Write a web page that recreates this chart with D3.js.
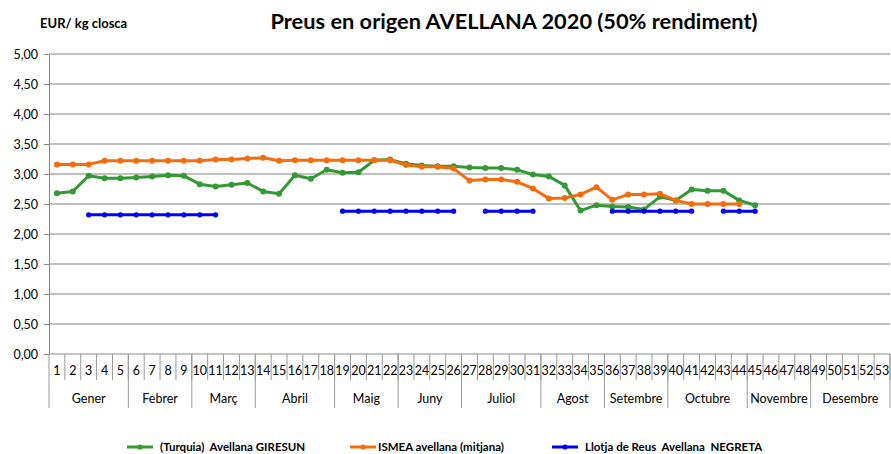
<!DOCTYPE html>
<html>
<head>
<meta charset="utf-8">
<script src="https://cdn.jsdelivr.net/npm/d3@7"></script>
<style>
  body { margin: 0; background: #fff; }
  text { font-family: Lato, "Open Sans", sans-serif; fill: #000; }
</style>
</head>
<body>
<script>
var w = 891;
var h = 454;

// categories
var weeks = [1,2,3,4,5,6,7,8,9,10,11,12,13,14,15,16,17,18,19,20,21,22,23,24,25,26,27,
  28,29,30,31,32,33,34,35,36,37,38,39,40,41,42,43,44,45,46,47,48,49,50,51,52,53];
var monthNames = ["Gener","Febrer","Març","Abril","Maig","Juny","Juliol","Agost",
  "Setembre","Octubre","Novembre","Desembre"];
var monthWeeks = [5,4,4,5,4,4,5,4,4,5,4,5];
var yTicks = [0,0.5,1,1.5,2,2.5,3,3.5,4,4.5,5];

// series (null = no data that week)
var giresun = [2.68,2.71,2.97,2.93,2.93,2.94,2.96,2.98,2.97,2.83,2.79,2.82,2.85,2.71,2.67,
  2.98,2.92,3.07,3.02,3.03,3.23,3.24,3.17,3.14,3.13,3.13,3.11,3.10,3.10,3.07,2.99,2.96,
  2.81,2.39,2.48,2.46,2.45,2.41,2.62,2.56,2.74,2.72,2.72,2.56,2.48,
  null,null,null,null,null,null,null,null];
var ismea = [3.16,3.16,3.16,3.22,3.22,3.22,3.22,3.22,3.22,3.22,3.24,3.24,3.26,3.27,3.22,
  3.23,3.23,3.23,3.23,3.23,3.23,3.23,3.15,3.12,3.12,3.09,2.89,2.91,2.91,2.87,2.76,2.59,
  2.60,2.66,2.78,2.57,2.66,2.66,2.67,2.56,2.50,2.50,2.50,2.50,
  null,null,null,null,null,null,null,null,null];
var negreta = [null,null,2.32,2.32,2.32,2.32,2.32,2.32,2.32,2.32,2.32,
  null,null,null,null,null,null,null,
  2.38,2.38,2.38,2.38,2.38,2.38,2.38,2.38,null,2.38,2.38,2.38,2.38,
  null,null,null,null,2.38,2.38,2.38,2.38,2.38,2.38,null,2.38,2.38,2.38,
  null,null,null,null,null,null,null,null];

var seriesNames = ["(Turquia)  Avellana GIRESUN", "ISMEA avellana (mitjana)",
  "Llotja de Reus  Avellana  NEGRETA"];
var seriesColors = ["#339933", "#f56c0c", "#0000ff"];

var svg = d3.select("body").append("svg")
  .attr("width", w)
  .attr("height", h);

var x = d3.scaleBand()
  .domain(weeks)
  .range([49, 890]);
var y = d3.scaleLinear()
  .domain([0, 5])
  .range([354, 54]);

var fmt = d3.formatLocale({decimal: ",", thousands: ".", grouping: [3], currency: ["", "€"]}).format(".2f");

// gridlines
svg.append("g")
  .selectAll("line")
  .data(yTicks.filter(function (d) { return d > 0; }))
  .join("line")
  .attr("x1", 49).attr("x2", 890)
  .attr("y1", function (d) { return y(d); })
  .attr("y2", function (d) { return y(d); })
  .attr("stroke", "#c0c0c0")
  .attr("stroke-width", 2);

// y axis
var yAxis = svg.append("g")
  .attr("transform", "translate(49,0)")
  .call(d3.axisLeft(y).tickValues(yTicks).tickFormat(fmt).tickSize(5).tickSizeOuter(0).tickPadding(6));
yAxis.select(".domain").attr("stroke", "#888");
yAxis.selectAll(".tick line").attr("stroke", "#888");
yAxis.selectAll(".tick text")
  .style("font-size", "12.5px")
  .style("font-family", "Lato, sans-serif")
  .attr("fill", "#000");

// x axis: week row
var xg = svg.append("g");
xg.append("line")
  .attr("x1", 49).attr("x2", 890)
  .attr("y1", 354).attr("y2", 354)
  .attr("stroke", "#888");
xg.selectAll(".wsep")
  .data(weeks)
  .join("line")
  .attr("class", "wsep")
  .attr("x1", function (d) { return x(d) + x.bandwidth(); })
  .attr("x2", function (d) { return x(d) + x.bandwidth(); })
  .attr("y1", 354).attr("y2", 380)
  .attr("stroke", "#999");
xg.selectAll(".wlab")
  .data(weeks)
  .join("text")
  .attr("class", "wlab")
  .attr("x", function (d) { return x(d) + x.bandwidth() / 2; })
  .attr("y", 375)
  .attr("text-anchor", "middle")
  .style("font-size", "12.5px")
  .text(function (d) { return d; });

// month row
var monthStart = [];
var acc = 0;
for (var i = 0; i < monthWeeks.length; i++) {
  monthStart.push(weeks[acc]);
  acc += monthWeeks[i];
}
var bounds = monthStart.map(function (d) { return x(d); }).concat([x(53) + x.bandwidth()]);
xg.selectAll(".msep")
  .data(bounds)
  .join("line")
  .attr("class", "msep")
  .attr("x1", function (d) { return d; })
  .attr("x2", function (d) { return d; })
  .attr("y1", 354).attr("y2", 408)
  .attr("stroke", "#999");
xg.selectAll(".mlab")
  .data(monthNames)
  .join("text")
  .attr("class", "mlab")
  .attr("x", function (d, i) { return (bounds[i] + bounds[i + 1]) / 2; })
  .attr("y", 403)
  .attr("text-anchor", "middle")
  .style("font-size", "12.5px")
  .text(function (d) { return d; });

// series
var allSeries = [giresun, ismea, negreta];
var line = d3.line()
  .defined(function (d) { return d != null; })
  .x(function (d, i) { return x(weeks[i]) + x.bandwidth() / 2; })
  .y(function (d) { return y(d); });

allSeries.forEach(function (s, k) {
  var g = svg.append("g");
  g.append("path")
    .datum(s)
    .attr("d", line)
    .attr("fill", "none")
    .attr("stroke", seriesColors[k])
    .attr("stroke-width", 3)
    .attr("stroke-linejoin", "round");
  g.selectAll("circle")
    .data(s.map(function (v, i) { return {v: v, wk: weeks[i]}; })
      .filter(function (d) { return d.v != null; }))
    .join("circle")
    .attr("cx", function (d) { return x(d.wk) + x.bandwidth() / 2; })
    .attr("cy", function (d) { return y(d.v); })
    .attr("r", k == 2 ? 2.6 : 3)
    .attr("fill", seriesColors[k]);
});

// titles
svg.append("text")
  .attr("x", 514).attr("y", 29)
  .attr("text-anchor", "middle")
  .style("font-size", "21.8px")
  .style("font-weight", "bold")
  .text("Preus en origen AVELLANA 2020 (50% rendiment)");
svg.append("text")
  .attr("x", 40).attr("y", 28)
  .style("font-size", "13px")
  .style("font-weight", "bold")
  .text("EUR/ kg closca");

// legend
var legX = [127, 350, 552];
var leg = svg.selectAll(".leg")
  .data(seriesNames)
  .join("g")
  .attr("class", "leg")
  .attr("transform", function (d, i) { return "translate(" + legX[i] + ",447)"; });
leg.append("line")
  .attr("x1", 0).attr("x2", 26)
  .attr("stroke", function (d, i) { return seriesColors[i]; })
  .attr("stroke-width", 3);
leg.append("circle")
  .attr("cx", 13).attr("r", 2.6)
  .attr("fill", function (d, i) { return seriesColors[i]; });
leg.append("text")
  .attr("x", function (d, i) { return i == 1 ? 28 : 33; })
  .attr("y", 4)
  .style("font-size", "11.5px")
  .style("font-weight", "bold")
  .style("white-space", "pre")
  .text(function (d) { return d; });
</script>
</body>
</html>
